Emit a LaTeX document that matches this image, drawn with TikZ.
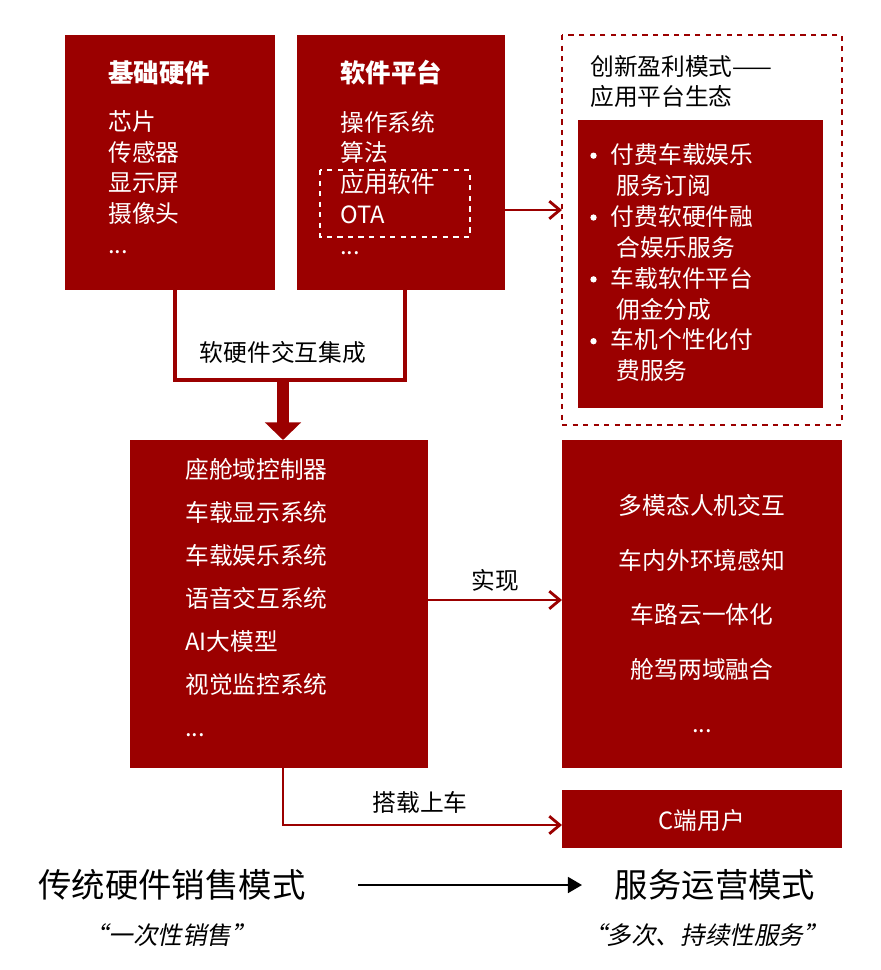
\documentclass[tikz,border=0pt]{standalone}
\usepackage{fontspec}
\setmainfont{Noto Sans CJK SC}
\newfontfamily\slantcjk[FakeSlant=0.2]{Noto Sans CJK SC}
\usetikzlibrary{positioning,arrows.meta}
\definecolor{darkred}{HTML}{9B0000}
\newcommand{\dotmark}{\tikz[baseline=-0.6ex]\fill[white] (0,0) circle (1.8pt);\hspace{0.6em}}
\begin{document}
\begin{tikzpicture}[x=0.02cm,y=-0.02cm,
redbox/.style={fill=darkred, draw=none},
boxtext/.style={text=white, align=left, anchor=north west, font=\fontsize{13.5}{17.5}\selectfont, inner sep=0pt},
redline/.style={draw=darkred, line width=1.6pt}
]
\useasboundingbox (0,0) rectangle (880,970);
% top boxes
\fill[redbox] (65,35) rectangle (275,290);
\fill[redbox] (297,35) rectangle (505,290);
\node[boxtext] (hw) at (108,60) {{\fontsize{14.5}{17.5}\selectfont\textbf{基础硬件}}\\[10pt]芯片\\传感器\\显示屏\\摄像头\\...};
\node[boxtext] (sw) at (340,60) {{\fontsize{14.5}{17.5}\selectfont\textbf{软件平台}}\\[10pt]操作系统\\算法\\应用软件\\OTA\\...};
\draw[white, dashed, line width=1.3pt] (320,170) rectangle (470,237);
\coordinate (swr) at (505,210);
% profit model
\draw[darkred, dashed, line width=1.5pt] (562,35) rectangle (842,425);
\node[align=left, anchor=north west, inner sep=0pt, font=\fontsize{13.5}{17}\selectfont] (pm) at (590,55) {创新盈利模式——\\应用平台生态};
\fill[redbox] (578,120) rectangle (823,408);
\node[boxtext, font=\fontsize{13.5}{17.6}\selectfont] (svc) at (590,143) {%
\dotmark 付费车载娱乐\\\hspace*{1.1em}服务订阅\\
\dotmark 付费软硬件融\\\hspace*{1.1em}合娱乐服务\\
\dotmark 车载软件平台\\\hspace*{1.1em}佣金分成\\
\dotmark 车机个性化付\\\hspace*{1.1em}费服务};
\coordinate (dl) at (562,210);
\draw[redline, -{Straight Barb[length=6pt,width=10pt]}] (swr) -- (dl);
% integration
\coordinate (hwb) at (175,290);
\coordinate (swb) at (405,290);
\draw[redline, line width=2.5pt] (hwb) |- (283,380) -| (swb);
\node[font=\fontsize{13.5}{14}\selectfont] (integ) at (283,352) {软硬件交互集成};
\draw[darkred, line width=7pt, -{Triangle[length=10pt,width=20pt]}] (283,379) -- (283,440);
% middle boxes
\fill[redbox] (130,440) rectangle (428,768);
\node[boxtext, font=\fontsize{13.5}{24.5}\selectfont] (cab) at (185,458) {座舱域控制器\\车载显示系统\\车载娱乐系统\\语音交互系统\\AI大模型\\视觉监控系统\\...};
\fill[redbox] (562,440) rectangle (842,768);
\node[text=white, align=center, font=\fontsize{13.5}{31}\selectfont] (feat) at (702,614) {多模态人机交互\\车内外环境感知\\车路云一体化\\舱驾两域融合\\...};
\draw[redline, -{Straight Barb[length=6pt,width=10pt]}] (428,600) -- (562,600);
\node[font=\fontsize{13.5}{14}\selectfont] (real) at (495,580) {实现};
% user
\fill[redbox] (562,790) rectangle (842,848);
\node[text=white, font=\fontsize{13.5}{14}\selectfont] (user) at (702,820) {C端用户};
\draw[redline, -{Straight Barb[length=6pt,width=10pt]}] (283,768) |- (562,825);
\node[font=\fontsize{13.5}{14}\selectfont] (load) at (420,802) {搭载上车};
% bottom
\node[font=\fontsize{19}{20}\selectfont] (trad) at (172,885) {传统硬件销售模式};
\node[font=\fontsize{19}{20}\selectfont] (serv) at (715,885) {服务运营模式};
\draw[line width=1.3pt, -{Triangle[length=8pt,width=9pt]}] (358,885) -- (582,885);
\node[font=\fontsize{14}{16}\selectfont\slantcjk] (once) at (170,935) {“一次性销售”};
\node[font=\fontsize{14}{16}\selectfont\slantcjk] (multi) at (705,935) {“多次、持续性服务”};
\end{tikzpicture}
\end{document}
